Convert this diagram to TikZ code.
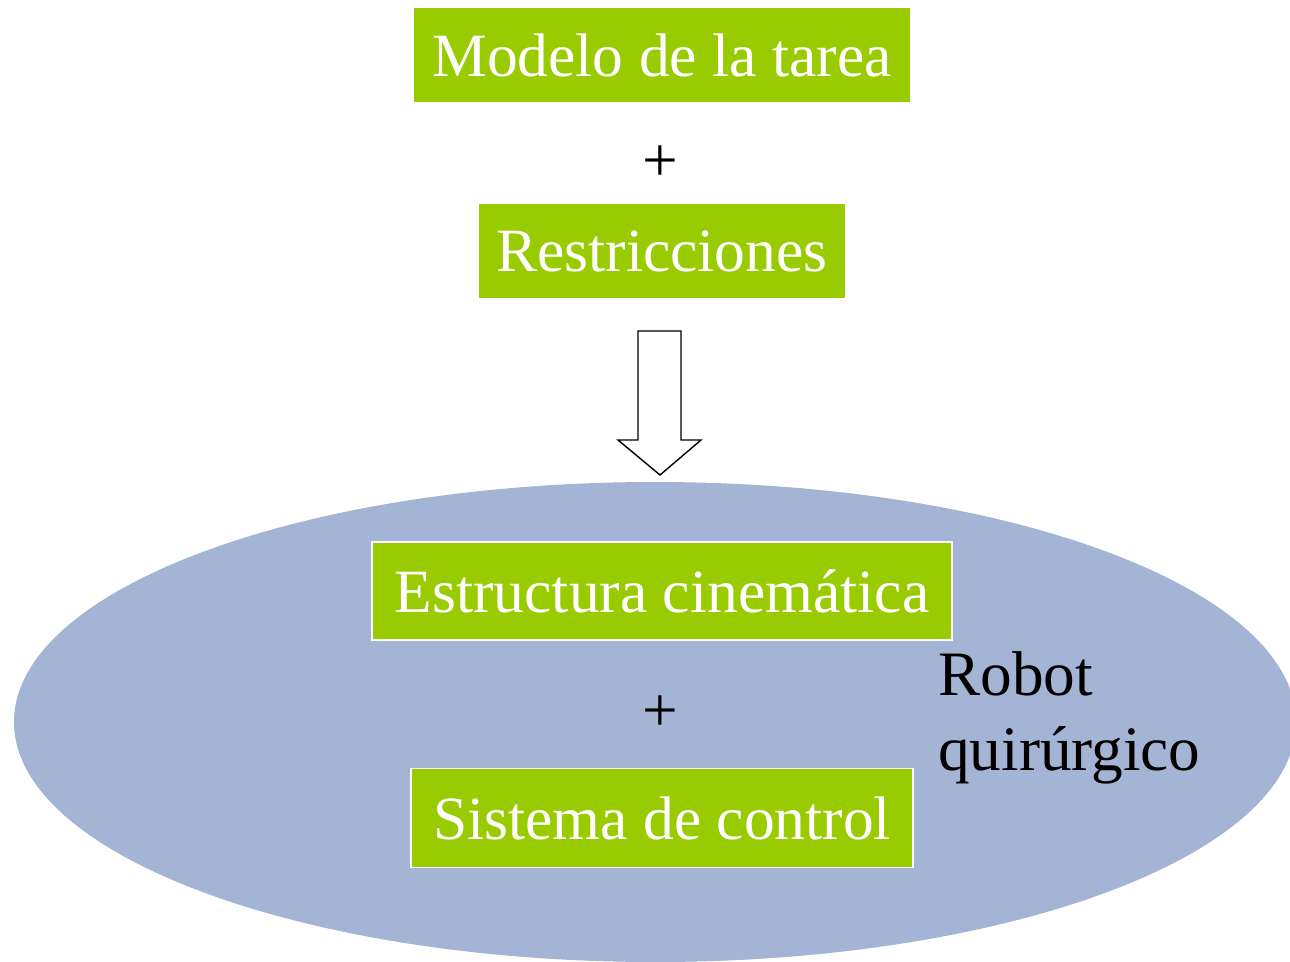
\documentclass[tikz,border=0pt]{standalone}
\usepackage{fontspec}
\setmainfont{Liberation Serif}
\usepackage{tikz}
\usetikzlibrary{positioning}
\definecolor{verde}{RGB}{153,204,0}
\definecolor{azul}{RGB}{164,180,212}

\begin{document}
\begin{tikzpicture}[x=0.02cm,y=-0.02cm]
  \useasboundingbox (0,0) rectangle (1290,962);
  \tikzset{tbox/.style={fill=verde,text=white,inner sep=0pt,minimum height=1.9cm,font=\fontsize{35}{35}\selectfont},
    plus/.style={font=\fontsize{36}{43}\selectfont}}
  \fill[azul] (655,722) ellipse [x radius=641, y radius=240];
  \node[tbox,minimum width=9.92cm] (modelo) at (662,55) {Modelo de la tarea};
  \node[plus] (mas1) at (660,164) {+};
  \node[tbox,minimum width=7.32cm] (restr) at (662,251) {Restricciones};
  \draw[line width=0.8pt,fill=white] (638,331)--(681,331)--(681,440)--(701,440)--(660,475)--(618,440)--(638,440)--cycle;
  \node[tbox,draw=white,line width=0.9pt,minimum width=11.6cm,minimum height=1.96cm] (estr) at (662,591) {Estructura cinemática};
  \node[plus] (mas2) at (660,714) {+};
  \node[tbox,draw=white,line width=0.9pt,minimum width=10.04cm,minimum height=1.98cm] (sist) at (662,818) {Sistema de control};
  \node[plus,anchor=west,align=left] (robot) at (932,718) {Robot\\quirúrgico};
\end{tikzpicture}
\end{document}
